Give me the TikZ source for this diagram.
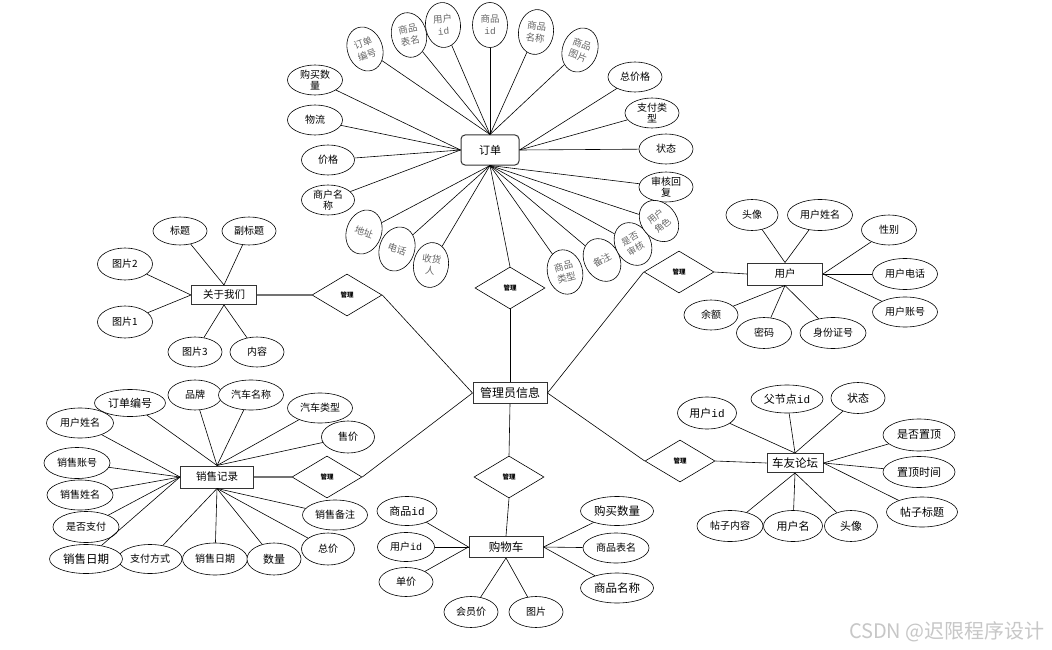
\documentclass[tikz,border=0pt]{standalone}
\usepackage{fontspec}
\setmainfont{Noto Sans CJK SC}
\setmonofont{Liberation Mono}
\usetikzlibrary{shapes.geometric}
\newcommand{\idtxt}{{\ttfamily id}}
\begin{document}
\begin{tikzpicture}[x=1pt,y=-1pt,
  att/.style={ellipse, draw, fill=white, line width=0.6pt, inner sep=0pt, minimum width=54pt, minimum height=30pt, align=center, font=\fontsize{10}{11.5}\selectfont},
  ratt/.style={att, minimum width=35pt, minimum height=45pt, text=black!60, font=\fontsize{9.5}{12}\selectfont},
  rel/.style={diamond, draw, fill=white, line width=0.6pt, inner sep=0pt, minimum width=70pt, minimum height=42pt, font=\bfseries\fontsize{6.5}{7}\selectfont},
  ent/.style={rectangle, draw=black!80, fill=white, line width=1pt, inner sep=0pt, minimum height=21pt, font=\fontsize{10.5}{12}\selectfont},
  link/.style={line width=0.6pt},
  glink/.style={line width=1.4pt, draw=black!55}]
\fill[white] (0,0) rectangle (1052,650);
\useasboundingbox (0,0) rectangle (1052,650);

% ===== order =====
\node[ent, rounded corners=4pt, minimum width=58pt, minimum height=30pt, font=\fontsize{11}{13}\selectfont] (order) at (490,150) {订单};
\node[ratt, rotate=20] (o1) at (365,49) {订单\\编号};
\node[ratt, rotate=12] (o2) at (409,35) {商品\\表名};
\node[ratt, rotate=5] (o3) at (443,25) {用户\\\idtxt};
\node[ratt] (o4) at (490,25) {商品\\\idtxt};
\node[ratt, rotate=-8] (o5) at (536,32) {商品\\名称};
\node[ratt, rotate=-20] (o6) at (580,50) {商品\\图片};
\node[att, minimum width=55pt] (o7) at (315,80) {购买数\\量};
\node[att, minimum width=55pt] (o8) at (315,120) {物流};
\node[att, minimum width=53pt] (o9) at (328,160) {价格};
\node[att, minimum width=53pt] (o10) at (328,200) {商户名\\称};
\node[att] (o11) at (635,77) {总价格};
\node[att] (o12) at (652,113) {支付类\\型};
\node[att] (o13) at (666,149) {状态};
\node[att] (o14) at (666,187) {审核回\\复};
\node[ratt, rotate=-20] (o15) at (364,232) {地址};
\node[ratt, rotate=-20] (o16) at (397,249) {电话};
\node[ratt, rotate=-8] (o17) at (431,265) {收货\\人};
\node[ratt, rotate=15] (o18) at (565,272) {商品\\类型};
\node[ratt, rotate=30] (o19) at (602,260) {备注};
\node[ratt, rotate=30, font=\fontsize{9}{11.5}\selectfont] (o20) at (633,244) {是否\\审核};
\node[ratt, rotate=40, font=\fontsize{9}{11.5}\selectfont] (o21) at (659,221) {用户\\角色};
\foreach \n in {o1,o2,o3,o4,o5,o6} \draw[link] (\n) -- (order.north);
\foreach \n in {o7,o8,o9,o10} \draw[link] (\n) -- (order.west);
\foreach \n in {o11,o12,o13} \draw[link] (\n) -- (order.east);
\foreach \n in {o14,o15,o16,o17,o18,o19,o20,o21} \draw[link] (\n) -- (order.south);

% ===== admin =====
\node[ent, minimum width=74pt, font=\fontsize{12}{14}\selectfont] (admin) at (510,393) {管理员信息};
\node[rel] (d1) at (510,288) {管理};
\draw[link] (admin) -- (d1);
\draw[link] (d1.north) -- (order.south);

% ===== about =====
\node[ent, minimum width=65pt, minimum height=19pt] (about) at (224,295) {关于我们};
\node[rel] (d2) at (347,295) {管理};
\node[att, minimum height=28pt] (a1) at (180,231) {标题};
\node[att, minimum height=28pt] (a2) at (249,231) {副标题};
\node[att, minimum width=55pt, minimum height=32pt] (a3) at (125,264) {图片2};
\node[att, minimum width=55pt, minimum height=32pt] (a4) at (125,322) {图片1};
\node[att] (a5) at (195,352) {图片3};
\node[att] (a6) at (257,352) {内容};
\foreach \n in {a1,a2} \draw[link] (\n) -- (about.north);
\foreach \n in {a3,a4} \draw[link] (\n) -- (about.west);
\foreach \n in {a5,a6} \draw[link] (\n) -- (about.south);
\draw[glink] (about.east) -- (d2.west);
\draw[link] (d2.east) -- (admin.west);

% ===== user =====
\node[ent, minimum width=75pt, minimum height=22pt] (user) at (785,274) {用户};
\node[rel] (d3) at (679,272) {管理};
\node[att, minimum width=52pt, minimum height=31pt] (u1) at (752,215) {头像};
\node[att, minimum width=65pt, minimum height=31pt] (u2) at (820,215) {用户姓名};
\node[att, minimum width=55pt] (u3) at (889,230) {性别};
\node[att, minimum width=65pt, minimum height=31pt] (u4) at (905,274) {用户电话};
\node[att, minimum width=65pt] (u5) at (905,312) {用户账号};
\node[att] (u6) at (711,315) {余额};
\node[att, minimum width=55pt, minimum height=31pt] (u7) at (764,333) {密码};
\node[att, minimum width=66pt, minimum height=31pt] (u8) at (833,333) {身份证号};
\foreach \n in {u1,u2} \draw[link] (\n) -- (user.north);
\foreach \n in {u3,u4,u5} \draw[link] (\n) -- (user.east);
\foreach \n in {u6,u7,u8} \draw[link] (\n) -- (user.south);
\draw[link] (d3.east) -- (user.west);
\draw[link] (admin.east) -- (d3.west);

% ===== forum =====
\node[ent, minimum width=56pt, minimum height=19pt, font=\fontsize{11.5}{13}\selectfont] (forum) at (795,463) {车友论坛};
\node[rel] (d4) at (680,461) {管理};
\node[att, minimum width=59pt, minimum height=32pt, font=\fontsize{11}{13}\selectfont] (f1) at (707,413) {用户\idtxt};
\node[att, minimum width=72pt, minimum height=28pt, font=\fontsize{11}{13}\selectfont] (f2) at (787,399) {父节点\idtxt};
\node[att, minimum height=31pt, font=\fontsize{11}{13}\selectfont] (f3) at (858,398) {状态};
\node[att, minimum width=72pt, minimum height=32pt, font=\fontsize{11}{13}\selectfont] (f4) at (919,435) {是否置顶};
\node[att, minimum width=72pt, minimum height=31pt, font=\fontsize{11}{13}\selectfont] (f5) at (919,472) {置顶时间};
\node[att, minimum width=71pt, font=\fontsize{11}{13}\selectfont] (f6) at (922,512) {帖子标题};
\node[att, minimum width=53pt, minimum height=31pt, font=\fontsize{11}{13}\selectfont] (f7) at (851,526) {头像};
\node[att, minimum width=59pt, minimum height=31pt, font=\fontsize{11}{13}\selectfont] (f8) at (793,526) {用户名};
\node[att, minimum width=66pt, minimum height=31pt] (f9) at (730,526) {帖子内容};
\foreach \n in {f1,f2,f3} \draw[link] (\n) -- (forum.north);
\foreach \n in {f4,f5,f6} \draw[link] (\n) -- (forum.east);
\foreach \n in {f7,f8,f9} \draw[link] (\n) -- (forum.south);
\draw[link] (d4.east) -- (forum.west);
\draw[link] (admin.east) -- (d4.west);

% ===== cart =====
\node[ent, minimum width=74pt, font=\fontsize{11.5}{13}\selectfont] (cart) at (506,547) {购物车};
\node[rel] (d5) at (509,477) {管理};
\node[att, minimum width=60pt, minimum height=29pt, font=\fontsize{11}{13}\selectfont] (c1) at (407,511) {商品\idtxt};
\node[att, minimum width=57pt, minimum height=29pt] (c2) at (406,547) {用户\idtxt};
\node[att, minimum height=29pt] (c3) at (406,582) {单价};
\node[att, minimum height=31pt] (c4) at (471,612) {会员价};
\node[att, minimum height=31pt] (c5) at (536,612) {图片};
\node[att, minimum width=73pt, minimum height=29pt, font=\fontsize{11.5}{13}\selectfont] (c6) at (617,511) {购买数量};
\node[att, minimum width=66pt] (c7) at (616,548) {商品表名};
\node[att, minimum width=73pt, font=\fontsize{11.5}{13}\selectfont] (c8) at (617,588) {商品名称};
\foreach \n in {c1,c2,c3} \draw[link] (\n) -- (cart.west);
\foreach \n in {c4,c5} \draw[link] (\n) -- (cart.south);
\foreach \n in {c6,c7,c8} \draw[link] (\n) -- (cart.east);
\draw[link] (admin.south) -- (d5.north);
\draw[link] (d5.south) -- (cart.north);

% ===== sales =====
\node[ent, minimum width=73pt, minimum height=22pt] (sales) at (217,477) {销售记录};
\node[rel] (d6) at (327,477) {管理};
\node[att, minimum width=71pt, minimum height=27pt, font=\fontsize{11}{13}\selectfont] (s1) at (130,403) {订单编号};
\node[att] (s2) at (195,395) {品牌};
\node[att, minimum width=65pt] (s3) at (251,395) {汽车名称};
\node[att, minimum width=65pt] (s4) at (320,408) {汽车类型};
\node[att, minimum width=53pt, minimum height=32pt] (s5) at (348,437) {售价};
\node[att, minimum width=67pt] (s6) at (80,423) {用户姓名};
\node[att, minimum width=66pt, minimum height=31pt] (s7) at (77,463) {销售账号};
\node[att, minimum width=66pt] (s8) at (80,495) {销售姓名};
\node[att, minimum width=66pt, minimum height=31pt] (s9) at (86,527) {是否支付};
\node[att, minimum width=64pt, minimum height=29pt] (s11) at (150,559) {支付方式};
\node[att, minimum width=73pt, minimum height=29pt, font=\fontsize{11.5}{13}\selectfont] (s10) at (86,559) {销售日期};
\node[att, minimum width=65pt, minimum height=32pt] (s12) at (215,559) {销售日期};
\node[att, minimum height=32pt, font=\fontsize{11}{13}\selectfont] (s13) at (274,559) {数量};
\node[att, minimum width=65pt] (s14) at (335,515) {销售备注};
\node[att, minimum width=53pt, minimum height=32pt] (s15) at (328,549) {总价};
\foreach \n in {s1,s2,s3,s4,s5} \draw[link] (\n) -- (sales.north);
\foreach \n in {s6,s7,s8,s9,s10} \draw[link] (\n) -- (sales.west);
\foreach \n in {s11,s12,s13,s14,s15} \draw[link] (\n) -- (sales.south);
\draw[glink] (sales.east) -- (d6.west);
\draw[link] (d6.east) -- (admin.west);

% watermark
\node[text=black!22, font=\fontsize{20}{22}\selectfont, anchor=east, inner sep=0pt] (wm) at (1045,632) {CSDN @迟限程序设计};
\end{tikzpicture}
\end{document}
